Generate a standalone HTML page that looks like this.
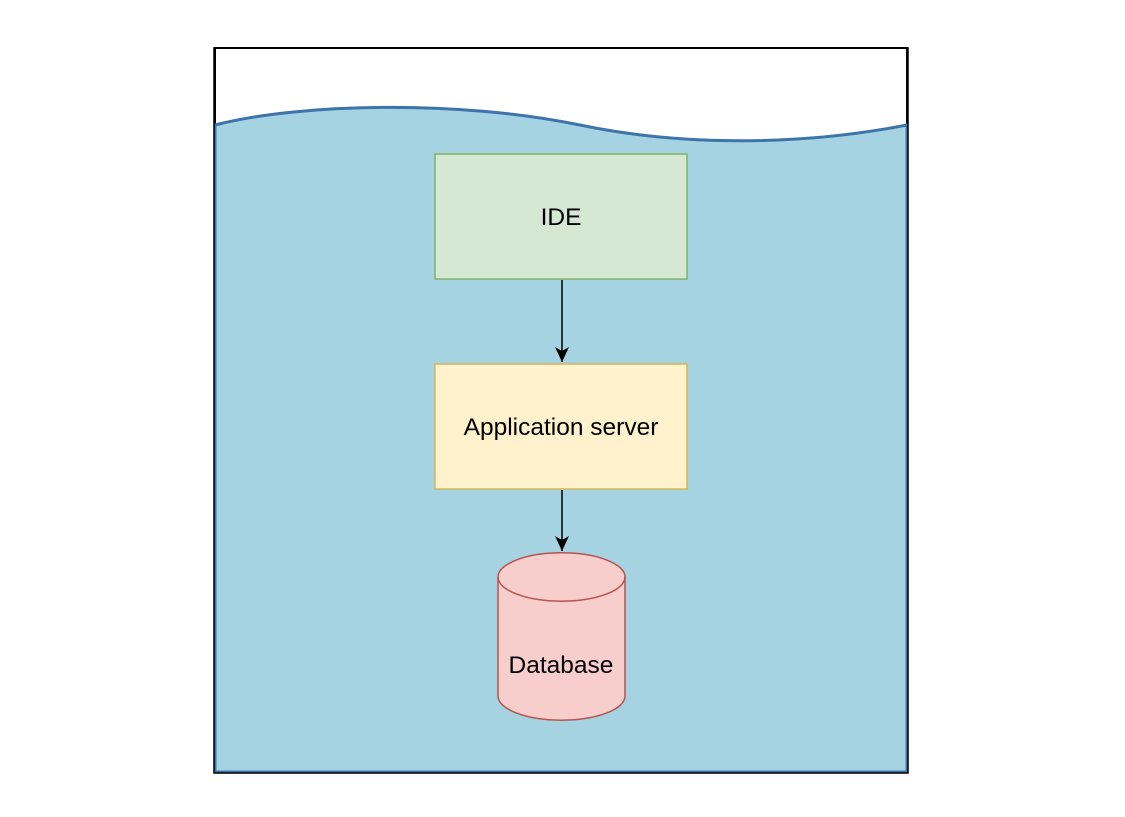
<!DOCTYPE html>
<html><head><style>body{margin:0;background:#fff}svg{display:block}</style></head>
<body>
<svg width="1125" height="817" xmlns="http://www.w3.org/2000/svg">
<defs><marker id="a" markerWidth="16" markerHeight="16" refX="15" refY="8" orient="auto" markerUnits="userSpaceOnUse"><path d="M0,1 L15,8 L0,15 L4,8 Z" fill="#000"/></marker></defs>
<rect x="215" y="48" width="692" height="724" fill="#fff" stroke="#000" stroke-width="2"/>
<path d="M215,125 C300,103 460,100 580,125 C680,146 800,146 907,125 L907,772 L215,772 Z" fill="#a5d3e1" stroke="#3d74ab" stroke-width="3"/>
<rect x="214" y="48" width="694" height="725" fill="none" stroke="#000" stroke-width="1.5"/>
<rect x="435" y="154" width="252" height="125" fill="#d5e8d4" stroke="#82b366" stroke-width="1.5"/>
<text x="561" y="225" font-family="Liberation Sans,sans-serif" font-size="24.5" text-anchor="middle">IDE</text>
<line x1="562" y1="280" x2="562" y2="362" stroke="#000" stroke-width="1.5" marker-end="url(#a)"/>
<rect x="435" y="364" width="252" height="125" fill="#fff2cc" stroke="#d6b656" stroke-width="1.5"/>
<text x="561" y="435" font-family="Liberation Sans,sans-serif" font-size="24.5" text-anchor="middle">Application server</text>
<line x1="562" y1="490" x2="562" y2="551" stroke="#000" stroke-width="1.5" marker-end="url(#a)"/>
<path d="M498,577 A63,24 0 0 1 625,577 L625,696 A63,24 0 0 1 498,696 Z" fill="#f8cecc" stroke="#b85450" stroke-width="1.5"/>
<path d="M498,577 A63,24 0 0 0 625,577" fill="none" stroke="#b85450" stroke-width="1.5"/>
<text x="561" y="673" font-family="Liberation Sans,sans-serif" font-size="24.5" text-anchor="middle">Database</text>
</svg>
</body></html>
